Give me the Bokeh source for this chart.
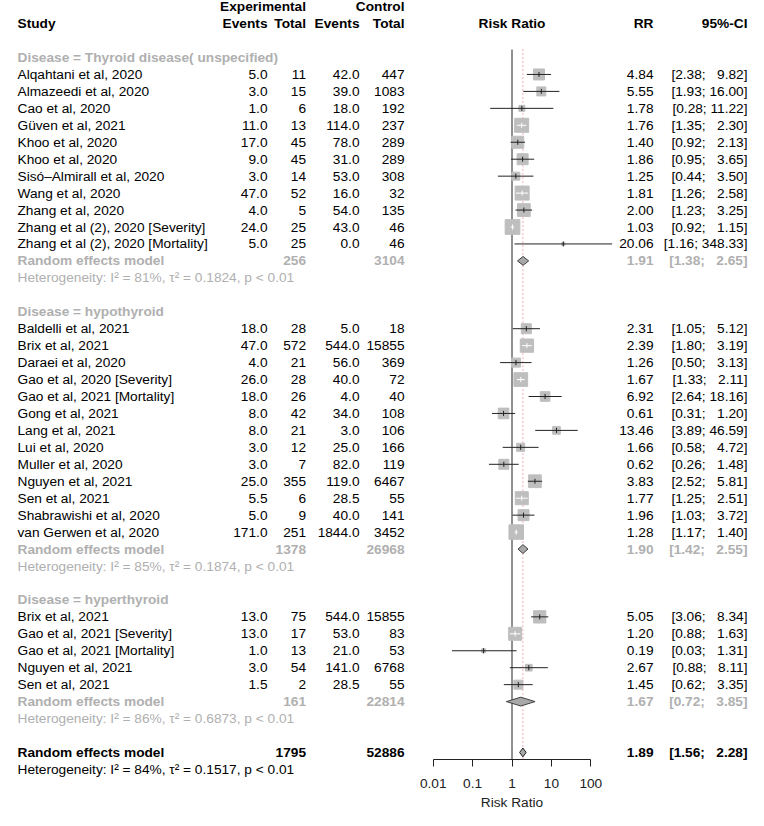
import math
from bokeh.plotting import figure
from bokeh.models import Range1d, FixedTicker, CustomJSTickFormatter, ColumnDataSource
from bokeh.layouts import row
from bokeh.embed import file_html
from bokeh.resources import INLINE
from bokeh.core.properties import value

# ---------------- data ----------------
g1_label = "Disease = Thyroid disease( unspecified)"
g1_study = ["Alqahtani et al, 2020", "Almazeedi et al, 2020", "Cao et al, 2020", "Güven et al, 2021",
            "Khoo et al, 2020", "Khoo et al, 2020", "Sisó\u2013Almirall et al, 2020", "Wang et al, 2020",
            "Zhang et al, 2020", "Zhang et al (2), 2020 [Severity]", "Zhang et al (2), 2020 [Mortality]"]
g1_ee = [5.0, 3.0, 1.0, 11.0, 17.0, 9.0, 3.0, 47.0, 4.0, 24.0, 5.0]
g1_et = [11, 15, 6, 13, 45, 45, 14, 52, 5, 25, 25]
g1_ce = [42.0, 39.0, 18.0, 114.0, 78.0, 31.0, 53.0, 16.0, 54.0, 43.0, 0.0]
g1_ct = [447, 1083, 192, 237, 289, 289, 308, 32, 135, 46, 46]
g1_rr = [4.84, 5.55, 1.78, 1.76, 1.40, 1.86, 1.25, 1.81, 2.00, 1.03, 20.06]
g1_lo = [2.38, 1.93, 0.28, 1.35, 0.92, 0.95, 0.44, 1.26, 1.23, 0.92, 1.16]
g1_hi = [9.82, 16.00, 11.22, 2.30, 2.13, 3.65, 3.50, 2.58, 3.25, 1.15, 348.33]
g1_w = [3.5, 2.35, 1.05, 5.7, 4.2, 3.5, 1.85, 5.7, 4.7, 6.3, 0.26]
g1_re = [256, 3104, 1.91, 1.38, 2.65]
g1_het = [81, 0.1824]

g2_label = "Disease = hypothyroid"
g2_study = ["Baldelli et al, 2021", "Brix et al, 2021", "Daraei et al, 2020", "Gao et al, 2020 [Severity]",
            "Gao et al, 2021 [Mortality]", "Gong et al, 2021", "Lang et al, 2021", "Lui et al, 2020",
            "Muller et al, 2020", "Nguyen et al, 2021", "Sen et al, 2021", "Shabrawishi et al, 2020",
            "van Gerwen et al, 2020"]
g2_ee = [18.0, 47.0, 4.0, 26.0, 18.0, 8.0, 8.0, 3.0, 3.0, 25.0, 5.5, 5.0, 171.0]
g2_et = [28, 572, 21, 28, 26, 42, 21, 12, 7, 355, 6, 9, 251]
g2_ce = [5.0, 544.0, 56.0, 40.0, 4.0, 34.0, 3.0, 25.0, 82.0, 119.0, 28.5, 40.0, 1844.0]
g2_ct = [18, 15855, 369, 72, 40, 108, 106, 166, 119, 6467, 55, 141, 3452]
g2_rr = [2.31, 2.39, 1.26, 1.67, 6.92, 0.61, 13.46, 1.66, 0.62, 3.83, 1.77, 1.96, 1.28]
g2_lo = [1.05, 1.80, 0.50, 1.33, 2.64, 0.31, 3.89, 0.58, 0.26, 2.52, 1.25, 1.03, 1.17]
g2_hi = [5.12, 3.19, 3.13, 2.11, 18.16, 1.20, 46.59, 4.72, 1.48, 5.81, 2.51, 3.72, 1.40]
g2_w = [2.9, 5.1, 2.35, 5.45, 2.7, 3.3, 1.7, 1.85, 2.9, 4.7, 4.9, 3.5, 6.1]
g2_re = [1378, 26968, 1.90, 1.42, 2.55]
g2_het = [85, 0.1874]

g3_label = "Disease = hyperthyroid"
g3_study = ["Brix et al, 2021", "Gao et al, 2021 [Severity]", "Gao et al, 2021 [Mortality]",
            "Nguyen et al, 2021", "Sen et al, 2021"]
g3_ee = [13.0, 13.0, 1.0, 3.0, 1.5]
g3_et = [75, 17, 13, 54, 2]
g3_ce = [544.0, 53.0, 21.0, 141.0, 28.5]
g3_ct = [15855, 83, 53, 6768, 55]
g3_rr = [5.05, 1.20, 0.19, 2.67, 1.45]
g3_lo = [3.06, 0.88, 0.03, 0.88, 0.62]
g3_hi = [8.34, 1.63, 1.31, 8.11, 3.35]
g3_w = [4.4, 4.9, 0.46, 1.3, 2.35]
g3_re = [161, 22814, 1.67, 0.72, 3.85]
g3_het = [86, 0.6873]

overall_re = [1795, 52886, 1.89, 1.56, 2.28]
overall_het = [84, 0.1517]

axis_ticks = [0.01, 0.1, 1, 10, 100]

# ---------------- styles / layout ----------------
FONT = value("Liberation Sans")
FS = value("13.7px")
GRAY = "#b0b0b0"
SQ = "#bebebe"
ROWH = 16.95           # px per row
Y0 = 57.0              # page y of row 0
TOP, BOT_L, BOT_M = 0.0, 818.0, 759.0
LEFT_W, MID_W, RIGHT_W = 410, 203, 143
HALF_DEC = 2.576


def r_of(py):
    return (py - Y0) / ROWH


groups = [
    (g1_label, g1_study, g1_ee, g1_et, g1_ce, g1_ct, g1_rr, g1_lo, g1_hi, g1_w, g1_re, g1_het),
    (g2_label, g2_study, g2_ee, g2_et, g2_ce, g2_ct, g2_rr, g2_lo, g2_hi, g2_w, g2_re, g2_het),
    (g3_label, g3_study, g3_ee, g3_et, g3_ce, g3_ct, g3_rr, g3_lo, g3_hi, g3_w, g3_re, g3_het),
]


def ci_text(lo, hi):
    up = f"{hi:.2f}"
    pad = "\u2007" * max(0, 5 - len(up))
    return f"[{lo:.2f}; {pad}{up}]"


def het_text(i2, tau2):
    return f"Heterogeneity: I\u00b2 = {i2}%, \u03c4\u00b2 = {tau2:.4f}, p < 0.01"


L, R = [], []
studies = []
diamonds = []

X_STUDY, X_EE, X_ET, X_CE, X_CT = 17, 267, 305.5, 359, 404
X_RR, X_CI = 653, 747

L += [(X_ET, -3, "Experimental", "right", "black", "bold"),
      (X_CT, -3, "Control", "right", "black", "bold"),
      (X_STUDY, -2, "Study", "left", "black", "bold"),
      (X_EE, -2, "Events", "right", "black", "bold"),
      (X_ET, -2, "Total", "right", "black", "bold"),
      (X_CE, -2, "Events", "right", "black", "bold"),
      (X_CT, -2, "Total", "right", "black", "bold")]
R += [(X_RR, -2, "RR", "right", "black", "bold"),
      (X_CI, -2, "95%-CI", "right", "black", "bold")]

r = 0
for (lab, st, ee, et, ce, ct, rr, lo, hi, w, re, het) in groups:
    L.append((X_STUDY, r, lab, "left", GRAY, "bold"))
    r += 1
    for i in range(len(st)):
        L += [(X_STUDY, r, st[i], "left", "black", "normal"),
              (X_EE, r, f"{ee[i]:.1f}", "right", "black", "normal"),
              (X_ET, r, f"{et[i]}", "right", "black", "normal"),
              (X_CE, r, f"{ce[i]:.1f}", "right", "black", "normal"),
              (X_CT, r, f"{ct[i]}", "right", "black", "normal")]
        R += [(X_RR, r, f"{rr[i]:.2f}", "right", "black", "normal"),
              (X_CI, r, ci_text(lo[i], hi[i]), "right", "black", "normal")]
        studies.append((r, rr[i], lo[i], hi[i], w[i]))
        r += 1
    L += [(X_STUDY, r, "Random effects model", "left", GRAY, "bold"),
          (X_ET, r, f"{re[0]}", "right", GRAY, "bold"),
          (X_CT, r, f"{re[1]}", "right", GRAY, "bold")]
    R += [(X_RR, r, f"{re[2]:.2f}", "right", GRAY, "bold"),
          (X_CI, r, ci_text(re[3], re[4]), "right", GRAY, "bold")]
    diamonds.append((r, re[2], re[3], re[4], "#404040"))
    r += 1
    L.append((X_STUDY, r, het_text(*het), "left", GRAY, "normal"))
    r += 2

L += [(X_STUDY, r, "Random effects model", "left", "black", "bold"),
      (X_ET, r, f"{overall_re[0]}", "right", "black", "bold"),
      (X_CT, r, f"{overall_re[1]}", "right", "black", "bold")]
R += [(X_RR, r, f"{overall_re[2]:.2f}", "right", "black", "bold"),
      (X_CI, r, ci_text(overall_re[3], overall_re[4]), "right", "black", "bold")]
diamonds.append((r, overall_re[2], overall_re[3], overall_re[4], "#202020"))
L.append((X_STUDY, r + 1, het_text(*overall_het), "left", "black", "normal"))


def base_fig(fw, fh, xr, yr, **kw):
    p = figure(frame_width=fw, frame_height=fh, x_range=xr, y_range=yr,
               output_backend="svg", toolbar_location=None, min_border=0,
               outline_line_color=None, **kw)
    p.grid.visible = False
    return p


def add_texts(p, items):
    for al in ("left", "right", "center"):
        for style in ("normal", "bold"):
            sel = [it for it in items if it[3] == al and it[5] == style]
            if not sel:
                continue
            src = ColumnDataSource(dict(x=[s[0] for s in sel], y=[s[1] for s in sel],
                                        t=[s[2] for s in sel], c=[s[4] for s in sel]))
            p.text(x="x", y="y", text="t", source=src, text_color="c",
                   text_align=al, text_baseline="middle", text_font=FONT,
                   text_font_size=FS, text_font_style=style)


left = base_fig(LEFT_W, int(BOT_L - TOP), Range1d(0, LEFT_W), Range1d(r_of(BOT_L), r_of(TOP)),
                x_axis_location=None, y_axis_location=None)
add_texts(left, L)

right = base_fig(RIGHT_W, int(BOT_L - TOP), Range1d(LEFT_W + MID_W, LEFT_W + MID_W + RIGHT_W),
                 Range1d(r_of(BOT_L), r_of(TOP)), x_axis_location=None, y_axis_location=None)
add_texts(right, R)

ybot = r_of(BOT_M)
mid = base_fig(MID_W, int(BOT_M - TOP), Range1d(10 ** -HALF_DEC, 10 ** HALF_DEC),
               Range1d(ybot, r_of(TOP)), x_axis_type="log", y_axis_location=None)
px_per_dec = MID_W / (2 * HALF_DEC)

ax = mid.xaxis[0]
ax.ticker = FixedTicker(ticks=axis_ticks)
ax.formatter = CustomJSTickFormatter(code="return tick.toString();")
ax.bounds = (axis_ticks[0], axis_ticks[-1])
ax.axis_label = "Risk Ratio"
ax.axis_label_text_font = "Liberation Sans"
ax.axis_label_text_font_size = "13.7px"
ax.axis_label_text_font_style = "normal"
ax.axis_label_text_color = "#222222"
ax.axis_label_standoff = 4
ax.major_label_text_font = "Liberation Sans"
ax.major_label_text_font_size = "13.7px"
ax.major_label_text_color = "#222222"
ax.major_label_standoff = 12
ax.major_tick_in = 0
ax.major_tick_out = 7
ax.minor_tick_line_color = None
ax.axis_line_color = "#222222"
ax.major_tick_line_color = "#222222"

add_texts(mid, [(1, -2, "Risk Ratio", "center", "black", "bold")])

ytop_line = -0.47
mid.segment(x0=[1], y0=[ytop_line], x1=[1], y1=[ybot], line_color="#222222", line_width=1)
mid.segment(x0=[overall_re[2]], y0=[ytop_line], x1=[overall_re[2]], y1=[ybot],
            line_color="#f06060", line_width=1, line_dash="1 3")

sizes = [5.87 * math.sqrt(s[4]) for s in studies]
mid.scatter(x=[s[1] for s in studies], y=[s[0] for s in studies], size=sizes,
            marker="square", fill_color=SQ, line_color=SQ)

cols = []
for s, sz in zip(studies, sizes):
    span = (math.log10(s[3]) - math.log10(s[2])) * px_per_dec
    cols.append("white" if span <= sz else "#222222")
mid.segment(x0=[s[2] for s in studies], y0=[s[0] for s in studies],
            x1=[s[3] for s in studies], y1=[s[0] for s in studies], line_color=cols, line_width=1)
mid.segment(x0=[s[1] for s in studies], y0=[s[0] - 0.15 for s in studies],
            x1=[s[1] for s in studies], y1=[s[0] + 0.15 for s in studies], line_color=cols, line_width=1)

mid.patches(xs=[[d[2], d[1], d[3], d[1]] for d in diamonds],
            ys=[[d[0], d[0] - 0.26, d[0], d[0] + 0.26] for d in diamonds],
            fill_color="#a8a8a8", line_color=[d[4] for d in diamonds], line_width=1)

layout = row(left, mid, right, spacing=0)
open("out.html", "w").write(file_html(layout, INLINE))
